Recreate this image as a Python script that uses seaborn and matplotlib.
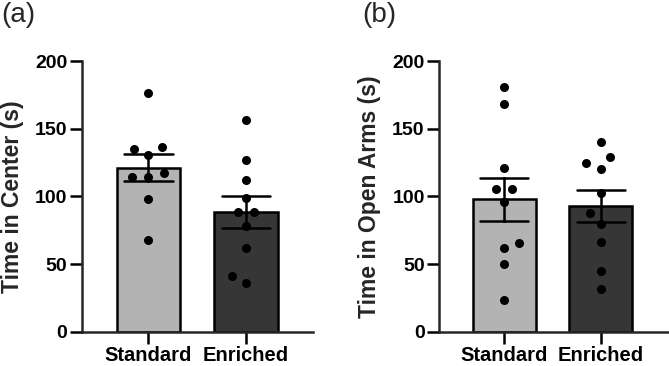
import pandas as pd
import matplotlib.pyplot as plt
import seaborn as sns

# Values
groups = ["Standard", "Enriched"]
center_standard = [176.6, 136.3, 135.0, 130.5, 117.0, 114.5, 114.5, 97.8, 67.7]
center_enriched = [156.4, 126.9, 112.0, 98.5, 88.2, 88.2, 78.3, 61.6, 41.2, 35.8]
open_standard = [180.6, 168.2, 121.0, 105.7, 105.7, 96.0, 65.3, 61.6, 49.8, 23.4]
open_enriched = [140.4, 129.3, 124.4, 120.0, 102.7, 87.5, 79.3, 66.5, 45.1, 31.8]
bar_colors = ["#b3b3b3", "#363636"]
y_ticks = [0, 50, 100, 150, 200]


def make_df(std, enr):
    return pd.DataFrame({
        "group": ["Standard"] * len(std) + ["Enriched"] * len(enr),
        "value": std + enr,
    })


sns.set_style("ticks")
plt.rcParams["font.family"] = ["Liberation Sans", "DejaVu Sans"]
plt.rcParams["font.weight"] = "bold"
plt.rcParams["axes.labelweight"] = "bold"

fig = plt.figure(figsize=(6.69, 3.66), dpi=100)
ax1 = fig.add_axes([0.1226, 0.0937, 0.3453, 0.7396])
ax2 = fig.add_axes([0.6567, 0.0937, 0.3426, 0.7396])

panels = [
    (ax1, make_df(center_standard, center_enriched), "Time in Center (s)", (-0.68, 1.686)),
    (ax2, make_df(open_standard, open_enriched), "Time in Open Arms (s)", (-0.67, 1.70)),
]

for ax, df, ylab, xl in panels:
    sns.barplot(data=df, x="group", y="value", hue="group", order=groups,
                hue_order=groups, palette=bar_colors, legend=False, ax=ax,
                errorbar="se", capsize=0.5, width=0.65,
                edgecolor="black", linewidth=1.8,
                err_kws={"color": "black", "linewidth": 1.8})
    # transparent edge widens the swarm spacing like the original layout
    sns.swarmplot(data=df, x="group", y="value", order=groups, color="black",
                  size=6.5, linewidth=4.5, edgecolor=(0, 0, 0, 0), ax=ax, zorder=5)
    ax.set_ylim(0, 200)
    ax.set_xlim(*xl)
    ax.set_yticks(y_ticks)
    ax.set_xlabel("")
    ax.set_ylabel(ylab, fontsize=16.5, fontweight="bold", labelpad=8)
    ax.tick_params(axis="both", direction="out", length=8.5, width=1.8,
                   colors="black")
    ax.tick_params(axis="y", labelsize=14, pad=2)
    ax.tick_params(axis="x", labelsize=14.5, pad=1.5)
    ax.spines["left"].set_linewidth(1.8)
    ax.spines["bottom"].set_linewidth(1.8)
    sns.despine(ax=ax)

fig.text(0.002, 0.995, "(a)", fontsize=20, fontweight="normal", va="top", ha="left")
fig.text(0.541, 0.995, "(b)", fontsize=20, fontweight="normal", va="top", ha="left")

fig.savefig("out.png", dpi=100)
